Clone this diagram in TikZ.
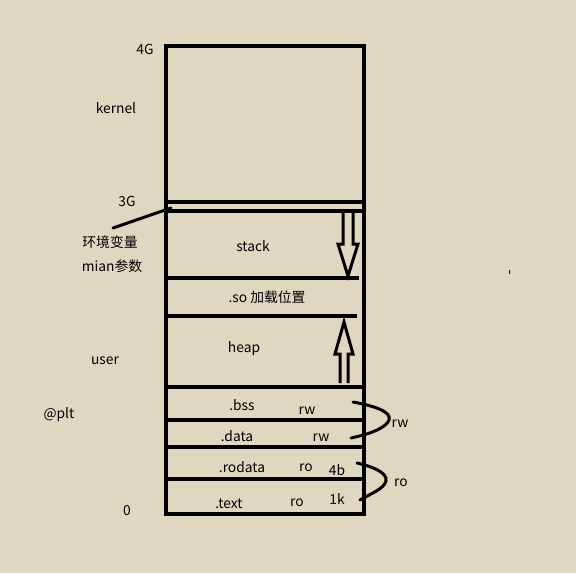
\documentclass[tikz,border=0pt]{standalone}
\usepackage{fontspec}
\setmainfont{Noto Sans CJK SC}
\begin{document}
\begin{tikzpicture}[x=1pt,y=-1pt,
  lbl/.style={inner sep=0pt,font=\fontsize{13.8}{16}\selectfont,text=black,yshift=-1.5pt},
  thick4/.style={line width=4pt},
  thin3/.style={line width=3pt}]
\definecolor{bg}{RGB}{223,215,191}
\fill[bg] (0,0) rectangle (576,573);
\useasboundingbox (0,0) rectangle (576,573);
% main box
\draw[thick4] (166,46) rectangle (364,514);
\draw[thick4] (166,202) -- (364,202);
\draw[thick4] (166,211) -- (364,211);
\draw[thick4] (166,278) -- (359,278);
\draw[thick4] (166,316) -- (357,316);
\draw[thick4] (166,387) -- (364,387);
\draw[thick4] (166,420) -- (364,420);
\draw[thick4] (166,447) -- (364,447);
\draw[thick4] (166,479) -- (364,479);
% stack arrow (hollow down)
\draw[thin3,line join=miter] (343,213) -- (343,244) -- (338,244) -- (348,276) -- (358,244) -- (353,244) -- (353,213);
% heap arrow (hollow up)
\draw[thin3,line join=miter] (340,383) -- (340,354) -- (335,354) -- (344,322) -- (353,354) -- (348,354) -- (348,383);
% pointer line
\coordinate (p1) at (171,208);
\coordinate (p2) at (113,228);
\draw[line width=3pt,line cap=round] (p1) -- (p2);
% braces
\draw[line width=3pt,line cap=round] (353,402) .. controls (375,406) and (392,412) .. (389,420) .. controls (386,428) and (370,434) .. (351,438);
\draw[line width=3pt,line cap=round] (357,463) .. controls (370,466) and (388,472) .. (386,481) .. controls (384,489) and (370,494) .. (360,500);
% tiny mark
\draw[line width=1pt] (509,270) -- (509,274);
% labels
\node[lbl] (l4g) at (145,48) {4G};
\node[lbl] (lk) at (116,107) {kernel};
\node[lbl] (l3g) at (127,200) {3G};
\node[lbl] (lenv) at (110,241) {环境变量};
\node[lbl] (lmain) at (112,265) {mian参数};
\node[lbl] (luser) at (105,359) {user};
\node[lbl] (lplt) at (59,413) {@plt};
\node[lbl] (l0) at (127,509) {0};
\node[lbl] (lstack) at (253,245) {stack};
\node[lbl] (lso) at (267,296) {.so 加载位置};
\node[lbl] (lheap) at (244,347) {heap};
\node[lbl] (lbss) at (242,404) {.bss};
\node[lbl] (rw1) at (307,409) {rw};
\node[lbl] (ldata) at (237,435) {.data};
\node[lbl] (rw2) at (321,436) {rw};
\node[lbl] (lrod) at (242,466) {.rodata};
\node[lbl] (ro1) at (306,466) {ro};
\node[lbl] (l4b) at (337,469) {4b};
\node[lbl] (ltext) at (229,502) {.text};
\node[lbl] (ro2) at (297,501) {ro};
\node[lbl] (l1k) at (337,498) {1k};
\node[lbl] (rw3) at (400,422) {rw};
\node[lbl] (ro3) at (401,481) {ro};
\end{tikzpicture}
\end{document}
